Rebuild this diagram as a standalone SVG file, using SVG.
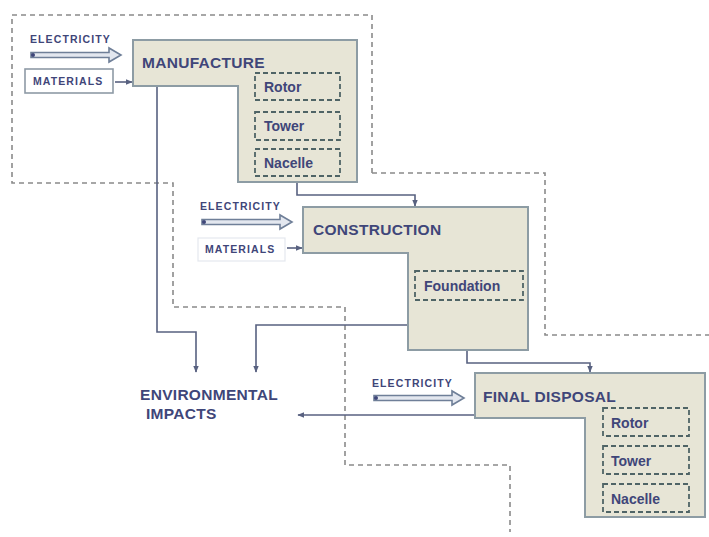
<svg xmlns="http://www.w3.org/2000/svg" width="709" height="537" viewBox="0 0 709 537">
<style>
.bound{fill:none;stroke:#8a8a8a;stroke-width:1.6;stroke-dasharray:5,4}
.stage{fill:#e7e5d6;stroke:#8d9ca4;stroke-width:2}
.sub{fill:none;stroke:#4f6466;stroke-width:1.8;stroke-dasharray:5,3}
.title{font-family:"Liberation Sans",Arial,sans-serif;font-weight:bold;font-size:15.5px;letter-spacing:0.3px;fill:#3f4679}
.subt{font-family:"Liberation Sans",Arial,sans-serif;font-weight:bold;font-size:14px;fill:#3f4679}
.small{font-family:"Liberation Sans",Arial,sans-serif;font-weight:bold;font-size:10.5px;letter-spacing:1.1px;fill:#3f4679}
.env{font-family:"Liberation Sans",Arial,sans-serif;font-weight:bold;font-size:15.5px;letter-spacing:0.3px;fill:#3f4679}
.conn{fill:none;stroke:#586180;stroke-width:1.6}
.elec{fill:#e3e7ef;stroke:#6f7f98;stroke-width:1.6}
.mat{fill:#ffffff;stroke:#8e9aa6;stroke-width:1.6}
</style>
<defs>
<marker id="ah" viewBox="0 0 10 10" refX="9" refY="5" markerWidth="7" markerHeight="7" orient="auto" markerUnits="userSpaceOnUse">
<path d="M0,1 L10,5 L0,9 z" fill="#586180"/>
</marker>
<path id="bigarrow" d="M0,-2.5 L78,-2.5 L78,-7 L90,0 L78,7 L78,2.5 L0,2.5 z"/>
</defs>
<rect width="709" height="537" fill="#ffffff"/>
<g id="boundaries">
<polyline class="bound" points="372,173 372,15 12,15 12,183 173,183 173,307 345,307 345,465 510,465 510,532"/>
<polyline class="bound" points="372,173 545,173 545,335 709,335"/>
</g>
<g id="connectors">
<polyline class="conn" points="157,86 157,332 196,332 196,372" marker-end="url(#ah)"/>
<polyline class="conn" points="408,325 256,325 256,372" marker-end="url(#ah)"/>
<polyline class="conn" points="297,182 297,195 415,195 415,206" marker-end="url(#ah)"/>
<polyline class="conn" points="467,350 467,363 590,363 590,372" marker-end="url(#ah)"/>
<polyline class="conn" points="475,415 298,415" marker-end="url(#ah)"/>
<polyline class="conn" points="115,82 132,82" marker-end="url(#ah)"/>
<polyline class="conn" points="287,248 302,248" marker-end="url(#ah)"/>
</g>
<g id="manufacture">
<polygon class="stage" points="133,40 357,40 357,182 238,182 238,86 133,86"/>
<text class="title" x="142" y="68">MANUFACTURE</text>
<rect class="sub" x="255" y="73" width="85" height="27"/>
<text class="subt" x="264" y="92">Rotor</text>
<rect class="sub" x="255" y="112" width="85" height="28"/>
<text class="subt" x="264" y="131">Tower</text>
<rect class="sub" x="255" y="149" width="85" height="27"/>
<text class="subt" x="264" y="168">Nacelle</text>
</g>
<g id="manufacture-inputs">
<text class="small" x="30" y="43">ELECTRICITY</text>
<use href="#bigarrow" class="elec" x="31" y="55"/>
<circle cx="33" cy="55" r="2" fill="#3f4679"/>
<rect class="mat" x="25" y="69" width="88" height="24"/>
<text class="small" x="33" y="85">MATERIALS</text>
</g>
<g id="construction">
<polygon class="stage" points="303,207 528,207 528,350 408,350 408,253 303,253"/>
<text class="title" x="313" y="235">CONSTRUCTION</text>
<rect class="sub" x="415" y="271" width="108" height="29"/>
<text class="subt" x="424" y="291">Foundation</text>
</g>
<g id="construction-inputs">
<text class="small" x="200" y="210">ELECTRICITY</text>
<use href="#bigarrow" class="elec" x="202" y="222"/>
<circle cx="204" cy="222" r="2" fill="#3f4679"/>
<rect x="198" y="238" width="87" height="23" fill="#ffffff" stroke="#e4e8ee" stroke-width="1.2"/>
<text class="small" x="205" y="253">MATERIALS</text>
</g>
<g id="final-disposal">
<polygon class="stage" points="475,373 705,373 705,517 585,517 585,418 475,418"/>
<text class="title" x="483" y="402">FINAL DISPOSAL</text>
<rect class="sub" x="603" y="408" width="86" height="28"/>
<text class="subt" x="611" y="428">Rotor</text>
<rect class="sub" x="603" y="446" width="86" height="28"/>
<text class="subt" x="611" y="466">Tower</text>
<rect class="sub" x="603" y="484" width="86" height="28"/>
<text class="subt" x="611" y="504">Nacelle</text>
</g>
<g id="disposal-inputs">
<text class="small" x="372" y="387">ELECTRICITY</text>
<use href="#bigarrow" class="elec" x="374" y="398"/>
<circle cx="376" cy="398" r="2" fill="#3f4679"/>
</g>
<g id="environmental-impacts">
<text class="env" x="140" y="400">ENVIRONMENTAL</text>
<text class="env" x="146" y="419">IMPACTS</text>
</g>
</svg>
